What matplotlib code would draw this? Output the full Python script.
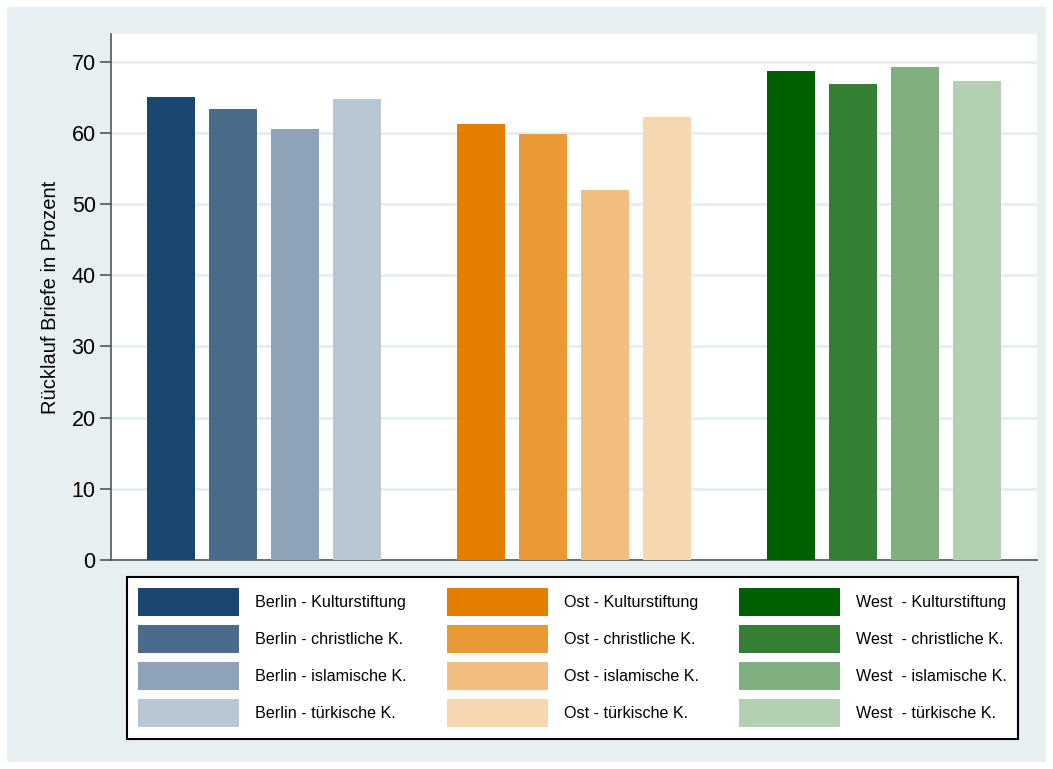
import matplotlib.pyplot as plt
from matplotlib.patches import Rectangle, Patch

plt.rcParams['font.family'] = ['Liberation Sans', 'DejaVu Sans']

groups = ['Berlin', 'Ost', 'West ']
kinds = ['Kulturstiftung', 'christliche K.', 'islamische K.', 'türkische K.']
berlin = [65.0, 63.4, 60.6, 64.8]
ost = [61.3, 59.9, 52.0, 62.3]
west = [68.7, 66.9, 69.2, 67.3]
values = [berlin, ost, west]

colors = [
    ['#1a476f', '#4a6b8c', '#8fa3b8', '#b9c7d3'],
    ['#e37e00', '#ea9937', '#f1be7f', '#f6d7b0'],
    ['#005f00', '#357f35', '#80b080', '#b3d0b3'],
]

W, H = 1053, 769
bg = '#e8eff2'
fig = plt.figure(figsize=(W / 100, H / 100), dpi=100, facecolor='white')
fig.patches.append(Rectangle((7 / W, 7 / H), (1046 - 7) / W, (762 - 7) / H,
                             transform=fig.transFigure, facecolor=bg,
                             edgecolor='none', zorder=-10))

ax = fig.add_axes([111 / W, 1 - 560 / H, 926 / W, 526 / H])
ax.set_facecolor('white')

handles = []
for g, (grp, vals) in enumerate(zip(groups, values)):
    for k, v in enumerate(vals):
        x = g * 5 + k
        ax.bar(x, v, width=0.774, color=colors[g][k], zorder=3)
        handles.append(Patch(facecolor=colors[g][k], edgecolor='none',
                             label=f'{grp} - {kinds[k]}'))

ax.set_xlim(-0.97, 13.97)
ax.set_ylim(0, 73.9)
ax.set_yticks(range(0, 71, 10))
ax.set_xticks([])
ax.yaxis.grid(True, color='#e6eef1', linewidth=2, zorder=0)
for s in ['top', 'right']:
    ax.spines[s].set_visible(False)
for s in ['left', 'bottom']:
    ax.spines[s].set_color('#555555')
    ax.spines[s].set_linewidth(1.2)
ax.tick_params(axis='y', length=8, width=1.2, color='#555555',
               labelsize=15.5, pad=3)
ax.set_ylabel('Rücklauf Briefe in Prozent', fontsize=14.5, labelpad=8)

# handle box height in matplotlib = fs*h - 0.35*fs*(h-0.7), aim for ~28 px
leg = fig.legend(handles=handles, ncol=3, loc='upper left',
                 bbox_to_anchor=(127 / W, 1 - 577 / H), borderaxespad=0,
                 fontsize=11.6, handlelength=6.25, handleheight=2.3,
                 handletextpad=1.0, columnspacing=2.5, labelspacing=0.56,
                 borderpad=0.7, fancybox=False, framealpha=1,
                 edgecolor='black')
leg.get_frame().set_linewidth(1.5)

fig.savefig('out.png', dpi=100, facecolor='white')
